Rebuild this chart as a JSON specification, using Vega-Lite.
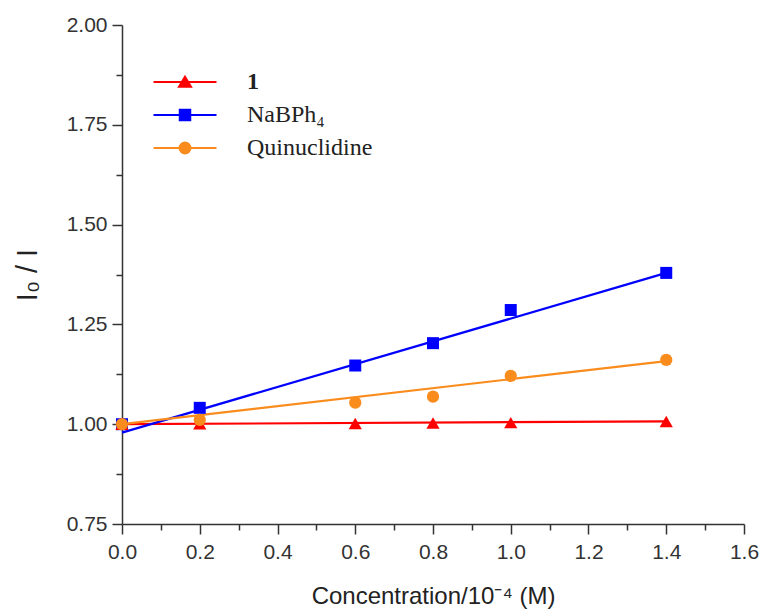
{
  "$schema": "https://vega.github.io/schema/vega-lite/v6.json",
  "width": 622,
  "height": 499,
  "autosize": {"type": "none"},
  "padding": {"left": 122, "top": 25, "right": 18, "bottom": 86},
  "background": "white",
  "config": {
    "view": {"stroke": null},
    "axis": {
      "grid": false,
      "labelFont": "Liberation Sans",
      "titleFont": "Liberation Sans",
      "labelColor": "#333",
      "titleColor": "#222",
      "domainColor": "#333",
      "tickColor": "#333",
      "domainWidth": 1.5,
      "tickWidth": 1.5,
      "labelFontSize": 21,
      "titleFontWeight": "normal",
      "labelOverlap": false
    },
    "legend": {
      "orient": "none", "legendX": 51, "legendY": 45, "title": null, "padding": 0,
      "rowPadding": 9, "labelOffset": 50, "symbolSize": 100, "symbolStrokeWidth": 2,
      "labelFont": "Liberation Serif", "labelFontSize": 24, "labelColor": "#222"
    }
  },
  "datasets": {
    "fits": [
      {"series": "1", "conc": 0, "ratio": 1.0},
      {"series": "1", "conc": 1.4, "ratio": 1.007},
      {"series": "NaBPh₄", "conc": 0, "ratio": 0.979},
      {"series": "NaBPh₄", "conc": 1.4, "ratio": 1.379},
      {"series": "Quinuclidine", "conc": 0, "ratio": 1.0},
      {"series": "Quinuclidine", "conc": 1.4, "ratio": 1.158}
    ],
    "points": [
      {"series": "NaBPh₄", "conc": 0, "ratio": 1.0},
      {"series": "NaBPh₄", "conc": 0.2, "ratio": 1.041},
      {"series": "NaBPh₄", "conc": 0.6, "ratio": 1.147},
      {"series": "NaBPh₄", "conc": 0.8, "ratio": 1.203},
      {"series": "NaBPh₄", "conc": 1.0, "ratio": 1.286},
      {"series": "NaBPh₄", "conc": 1.4, "ratio": 1.379},
      {"series": "1", "conc": 0, "ratio": 1.0},
      {"series": "1", "conc": 0.2, "ratio": 1.001},
      {"series": "1", "conc": 0.6, "ratio": 1.002},
      {"series": "1", "conc": 0.8, "ratio": 1.003},
      {"series": "1", "conc": 1.0, "ratio": 1.004},
      {"series": "1", "conc": 1.4, "ratio": 1.007},
      {"series": "Quinuclidine", "conc": 0, "ratio": 1.0},
      {"series": "Quinuclidine", "conc": 0.2, "ratio": 1.011},
      {"series": "Quinuclidine", "conc": 0.6, "ratio": 1.054},
      {"series": "Quinuclidine", "conc": 0.8, "ratio": 1.069},
      {"series": "Quinuclidine", "conc": 1.0, "ratio": 1.121},
      {"series": "Quinuclidine", "conc": 1.4, "ratio": 1.161}
    ]
  },
  "resolve": {"axis": {"x": "independent", "y": "independent"}},
  "layer": [
    {
      "data": {"name": "fits"},
      "mark": {"type": "line", "strokeWidth": 2.2},
      "encoding": {
        "x": {
          "field": "conc", "type": "quantitative",
          "scale": {"domain": [0, 1.6], "nice": false, "zero": false},
          "axis": {"orient": "bottom", "values": [0, 0.2, 0.4, 0.6, 0.8, 1.0, 1.2, 1.4, 1.6], "format": ".1f", "tickSize": 10, "labelPadding": 7, "labelFlush": false, "title": "Concentration/10⁻⁴ (M)", "titleFontSize": 24, "titlePadding": 22}
        },
        "y": {
          "field": "ratio", "type": "quantitative",
          "scale": {"domain": [0.75, 2.0], "nice": false, "zero": false},
          "axis": {"orient": "left", "values": [0.75, 1.0, 1.25, 1.5, 1.75, 2.0], "format": ".2f", "tickSize": 10, "labelPadding": 5, "title": "I₀ / I", "titleFontSize": 29, "titlePadding": 24}
        },
        "color": {
          "field": "series", "type": "nominal",
          "scale": {"domain": ["1", "NaBPh₄", "Quinuclidine"], "range": ["#ff0000", "#0000ff", "#fa8c1e"]},
          "legend": {
            "encode": {
              "symbols": {
                "update": {
                  "shape": {"signal": "datum.value === '1' ? 'M-6.3,0H6.3M0,-1.05L1.2,0.95L-1.2,0.95Z' : datum.value === 'Quinuclidine' ? 'M-6.3,0H6.3M-1.1,0A1.1,1.1,0,1,0,1.1,0A1.1,1.1,0,1,0,-1.1,0Z' : 'M-6.3,0H6.3M-1.05,-1.05H1.05V1.05H-1.05Z'"},
                  "fill": {"signal": "scale('color', datum.value)"},
                  "stroke": {"signal": "scale('color', datum.value)"},
                  "fillOpacity": {"value": 1},
                  "opacity": {"value": 1},
                  "strokeWidth": {"value": 2}
                }
              },
              "labels": {
                "update": {
                  "fontWeight": {"signal": "datum.value === '1' ? 'bold' : 'normal'"}
                }
              }
            }
          }
        }
      }
    },
    {
      "data": {"name": "points"},
      "transform": [{"filter": "datum.series === 'NaBPh₄'"}],
      "mark": {"type": "point", "filled": true, "opacity": 1, "shape": "square", "size": 144},
      "encoding": {
        "x": {
          "field": "conc", "type": "quantitative",
          "scale": {"domain": [0, 1.6], "nice": false, "zero": false},
          "axis": {"orient": "bottom", "values": [0.1, 0.3, 0.5, 0.7, 0.9, 1.1, 1.3, 1.5], "labels": false, "tickSize": 6, "domain": false, "title": null}
        },
        "y": {
          "field": "ratio", "type": "quantitative",
          "scale": {"domain": [0.75, 2.0], "nice": false, "zero": false},
          "axis": {"orient": "left", "values": [0.875, 1.125, 1.375, 1.625, 1.875], "labels": false, "tickSize": 6, "domain": false, "title": null}
        },
        "color": {
          "field": "series", "type": "nominal",
          "scale": {"domain": ["1", "NaBPh₄", "Quinuclidine"], "range": ["#ff0000", "#0000ff", "#fa8c1e"]},
          "legend": null
        }
      }
    },
    {
      "data": {"name": "points"},
      "transform": [{"filter": "datum.series === '1'"}],
      "mark": {"type": "point", "filled": true, "opacity": 1, "shape": "triangle-up", "size": 175},
      "encoding": {
        "x": {"field": "conc", "type": "quantitative", "scale": {"domain": [0, 1.6], "nice": false, "zero": false}, "axis": null},
        "y": {"field": "ratio", "type": "quantitative", "scale": {"domain": [0.75, 2.0], "nice": false, "zero": false}, "axis": null},
        "color": {
          "field": "series", "type": "nominal",
          "scale": {"domain": ["1", "NaBPh₄", "Quinuclidine"], "range": ["#ff0000", "#0000ff", "#fa8c1e"]},
          "legend": null
        }
      }
    },
    {
      "data": {"name": "points"},
      "transform": [{"filter": "datum.series === 'Quinuclidine'"}],
      "mark": {"type": "point", "filled": true, "opacity": 1, "shape": "circle", "size": 150},
      "encoding": {
        "x": {"field": "conc", "type": "quantitative", "scale": {"domain": [0, 1.6], "nice": false, "zero": false}, "axis": null},
        "y": {"field": "ratio", "type": "quantitative", "scale": {"domain": [0.75, 2.0], "nice": false, "zero": false}, "axis": null},
        "color": {
          "field": "series", "type": "nominal",
          "scale": {"domain": ["1", "NaBPh₄", "Quinuclidine"], "range": ["#ff0000", "#0000ff", "#fa8c1e"]},
          "legend": null
        }
      }
    }
  ]
}
